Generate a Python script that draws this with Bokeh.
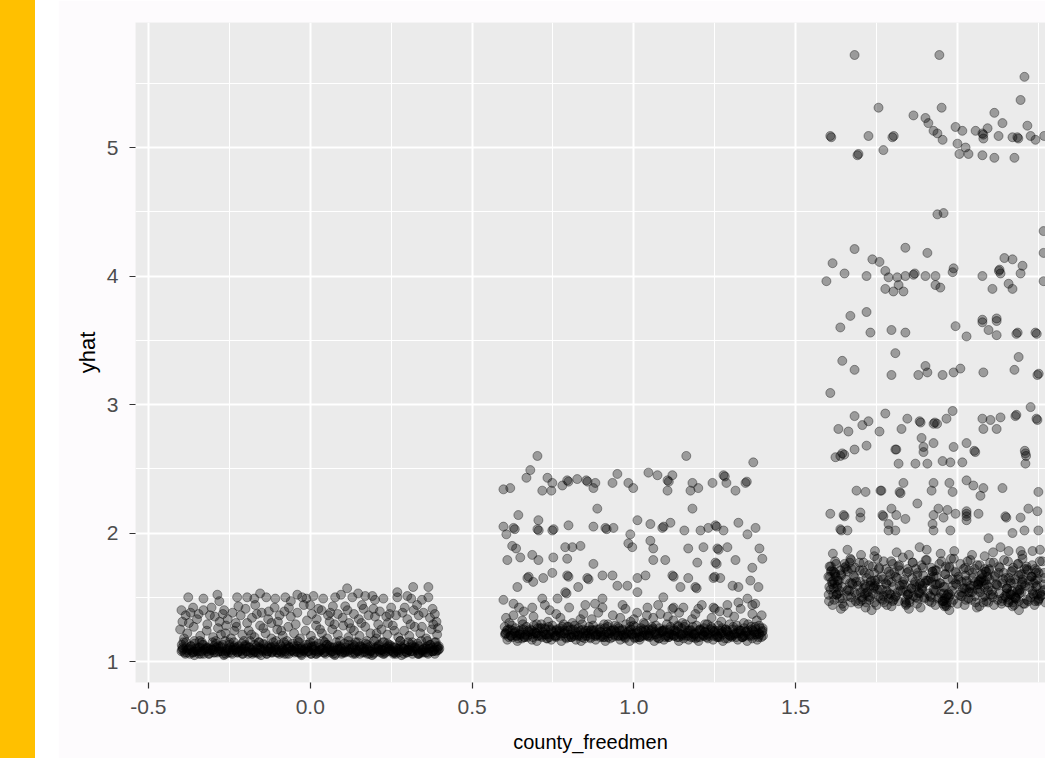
from bokeh.plotting import figure
from bokeh.models import Range1d, FixedTicker, ColumnDataSource, Div, Spacer
from bokeh.layouts import row
from bokeh.embed import file_html
from bokeh.resources import INLINE

# ---------------- data ----------------
x_ticks = [-0.5, 0.0, 0.5, 1.0, 1.5, 2.0]
x_tick_labels = ["-0.5", "0.0", "0.5", "1.0", "1.5", "2.0"]
x_minor = [-0.25, 0.25, 0.75, 1.25, 1.75, 2.25]
y_ticks = [1, 2, 3, 4, 5]
y_tick_labels = ["1", "2", "3", "4", "5"]
y_minor = [1.5, 2.5, 3.5, 4.5, 5.5]

# group 0 (county_freedmen = 0): dense band
g0_band_x_a = [-0.398,-0.386,-0.375,-0.364,-0.352,-0.341,-0.329,-0.318,-0.306,-0.295,-0.284,-0.272,-0.261,-0.249,-0.238,-0.226,-0.215,-0.204,-0.192,-0.181,-0.169,-0.158,-0.146,-0.135,-0.124,-0.112,-0.101,-0.089,-0.078,-0.066,-0.055,-0.044,-0.032,-0.021,-0.009,0.002,0.014,0.025,0.036,0.048,0.059,0.071,0.082,0.094,0.105,0.116,0.128,0.139,0.151,0.162,0.174,0.185,0.196,0.208,0.219,0.231,0.242,0.254,0.265,0.276,0.288,0.299,0.311,0.322,0.334,0.345,0.356,0.368,0.379,0.391]
g0_band_y_a = [1.08,1.06,1.10,1.07,1.09,1.11,1.06,1.08,1.10,1.07,1.12,1.08,1.06,1.09,1.11,1.07,1.08,1.10,1.06,1.09,1.07,1.11,1.08,1.06,1.10,1.09,1.07,1.12,1.08,1.06,1.09,1.10,1.07,1.08,1.11,1.06,1.09,1.07,1.10,1.08,1.12,1.06,1.09,1.11,1.07,1.08,1.10,1.06,1.09,1.07,1.11,1.08,1.06,1.10,1.09,1.07,1.12,1.08,1.06,1.09,1.10,1.07,1.08,1.11,1.06,1.09,1.07,1.10,1.08,1.12]
g0_band_x_b = [-0.393,-0.381,-0.370,-0.358,-0.347,-0.335,-0.324,-0.312,-0.301,-0.290,-0.278,-0.267,-0.255,-0.244,-0.232,-0.221,-0.210,-0.198,-0.187,-0.175,-0.164,-0.152,-0.141,-0.130,-0.118,-0.107,-0.095,-0.084,-0.072,-0.061,-0.050,-0.038,-0.027,-0.015,-0.004,0.008,0.019,0.031,0.042,0.053,0.065,0.076,0.088,0.099,0.111,0.122,0.133,0.145,0.156,0.168,0.179,0.191,0.202,0.213,0.225,0.236,0.248,0.259,0.271,0.282,0.293,0.305,0.316,0.328,0.339,0.351,0.362,0.373,0.385,0.396]
g0_band_y_b = [1.10,1.07,1.09,1.05,1.11,1.08,1.10,1.06,1.09,1.11,1.08,1.05,1.10,1.07,1.09,1.12,1.06,1.08,1.11,1.07,1.10,1.05,1.09,1.08,1.07,1.11,1.06,1.09,1.10,1.08,1.12,1.07,1.05,1.10,1.08,1.09,1.06,1.11,1.07,1.10,1.08,1.05,1.09,1.07,1.11,1.10,1.06,1.08,1.12,1.07,1.09,1.05,1.10,1.08,1.06,1.11,1.09,1.07,1.10,1.05,1.08,1.11,1.06,1.09,1.07,1.10,1.12,1.08,1.06,1.09]
g0_band_x_c = [-0.396,-0.383,-0.361,-0.349,-0.338,-0.316,-0.301,-0.287,-0.275,-0.259,-0.241,-0.229,-0.213,-0.202,-0.185,-0.171,-0.160,-0.143,-0.131,-0.119,-0.104,-0.091,-0.080,-0.063,-0.049,-0.036,-0.024,-0.007,0.005,0.017,0.029,0.044,0.057,0.069,0.086,0.097,0.109,0.124,0.137,0.149,0.166,0.177,0.189,0.205,0.217,0.228,0.244,0.257,0.269,0.284,0.297,0.309,0.325,0.337,0.348,0.363,0.377,0.389,0.399]
g0_band_y_c = [1.09,1.11,1.07,1.08,1.06,1.10,1.09,1.07,1.11,1.08,1.06,1.10,1.09,1.12,1.07,1.08,1.06,1.10,1.11,1.07,1.09,1.08,1.06,1.11,1.07,1.10,1.09,1.08,1.12,1.06,1.09,1.07,1.11,1.08,1.10,1.06,1.09,1.07,1.12,1.08,1.10,1.06,1.09,1.11,1.07,1.08,1.10,1.06,1.09,1.11,1.07,1.08,1.10,1.06,1.09,1.07,1.11,1.08,1.10]
g0_band_x_d = [-0.395,-0.380,-0.368,-0.355,-0.343,-0.333,-0.321,-0.308,-0.297,-0.281,-0.270,-0.258,-0.247,-0.234,-0.223,-0.212,-0.200,-0.189,-0.177,-0.166,-0.154,-0.143,-0.133,-0.121,-0.110,-0.097,-0.086,-0.075,-0.064,-0.052,-0.041,-0.029,-0.018,-0.006,0.005,0.016,0.028,0.039,0.051,0.062,0.073,0.085,0.096,0.108,0.119,0.131,0.142,0.153,0.165,0.176,0.188,0.199,0.211,0.222,0.233,0.245,0.256,0.268,0.279,0.290,0.302,0.313,0.325,0.336,0.347,0.359,0.371,0.383,0.394]
g0_band_y_d = [1.11,1.09,1.12,1.10,1.08,1.13,1.11,1.09,1.12,1.10,1.13,1.09,1.11,1.12,1.08,1.10,1.13,1.11,1.09,1.12,1.10,1.13,1.08,1.11,1.12,1.09,1.10,1.13,1.11,1.08,1.12,1.10,1.09,1.13,1.11,1.12,1.08,1.10,1.13,1.09,1.11,1.12,1.10,1.08,1.13,1.11,1.09,1.12,1.10,1.13,1.08,1.11,1.12,1.09,1.10,1.13,1.11,1.08,1.12,1.10,1.09,1.13,1.11,1.12,1.08,1.10,1.13,1.09,1.11]
g0_band_x_e = [-0.389,-0.372,-0.359,-0.344,-0.327,-0.314,-0.299,-0.283,-0.268,-0.253,-0.239,-0.224,-0.208,-0.194,-0.179,-0.163,-0.149,-0.134,-0.117,-0.103,-0.088,-0.073,-0.058,-0.043,-0.028,-0.012,0.003,0.018,0.034,0.047,0.063,0.078,0.093,0.108,0.122,0.138,0.153,0.168,0.183,0.198,0.214,0.229,0.243,0.258,0.273,0.289,0.304,0.318,0.333,0.348,0.364,0.379,0.393]
g0_band_y_e = [1.07,1.06,1.08,1.06,1.09,1.06,1.07,1.08,1.06,1.07,1.09,1.07,1.06,1.08,1.06,1.07,1.09,1.06,1.08,1.07,1.07,1.06,1.09,1.08,1.06,1.07,1.06,1.08,1.09,1.06,1.07,1.06,1.08,1.07,1.09,1.07,1.06,1.08,1.06,1.07,1.09,1.06,1.08,1.07,1.07,1.06,1.09,1.08,1.06,1.07,1.06,1.08,1.09]
g0_band_x_f = [-0.397,-0.384,-0.369,-0.357,-0.342,-0.330,-0.317,-0.302,-0.291,-0.277,-0.263,-0.250,-0.236,-0.227,-0.211,-0.197,-0.186,-0.172,-0.159,-0.145,-0.132,-0.122,-0.106,-0.093,-0.081,-0.068,-0.054,-0.039,-0.026,-0.013,0.000,0.012,0.026,0.040,0.052,0.066,0.080,0.091,0.106,0.118,0.133,0.146,0.158,0.171,0.186,0.197,0.212,0.224,0.239,0.251,0.263,0.278,0.292,0.303,0.317,0.331,0.343,0.357,0.370,0.384,0.397]
g0_band_y_f = [1.13,1.15,1.12,1.14,1.16,1.13,1.11,1.15,1.14,1.12,1.16,1.13,1.15,1.11,1.14,1.12,1.16,1.13,1.15,1.14,1.12,1.11,1.16,1.13,1.15,1.12,1.14,1.16,1.11,1.13,1.15,1.12,1.14,1.16,1.13,1.11,1.15,1.12,1.14,1.16,1.13,1.15,1.11,1.14,1.12,1.16,1.13,1.15,1.14,1.12,1.11,1.16,1.13,1.15,1.12,1.14,1.16,1.11,1.13,1.15,1.12]
# group 0: scattered points above the band
g0_sparse = [(-0.377,1.50),(-0.287,1.52),(-0.281,1.47),(-0.226,1.50),(-0.195,1.50),(-0.173,1.49),(-0.155,1.53),(-0.136,1.50),(-0.108,1.49),(-0.077,1.50),(-0.040,1.52),(-0.025,1.50),(-0.012,1.49),(0.040,1.49),(0.077,1.50),(0.095,1.52),(0.114,1.57),(0.130,1.50),(0.148,1.53),(0.170,1.51),(0.192,1.51),(0.226,1.49),(0.269,1.54),(0.269,1.50),(0.300,1.51),(0.312,1.49),(0.318,1.58),(0.365,1.58),(0.365,1.50),(0.345,1.48),(-0.330,1.49),(-0.060,1.47),(0.010,1.51),(0.200,1.48),
    (-0.362,1.42),(-0.385,1.36),(-0.370,1.38),(-0.345,1.37),(-0.330,1.40),(-0.310,1.36),(-0.295,1.35),(-0.270,1.37),(-0.255,1.33),(-0.240,1.38),(-0.215,1.36),(-0.200,1.41),(-0.180,1.34),(-0.165,1.37),(-0.150,1.38),(-0.130,1.33),(-0.110,1.42),(-0.095,1.36),(-0.080,1.39),(-0.060,1.35),(-0.040,1.38),(-0.020,1.44),(0.005,1.37),(0.020,1.33),(0.035,1.40),(0.055,1.36),(0.070,1.43),(0.085,1.37),(0.100,1.34),(0.115,1.40),(0.135,1.37),(0.150,1.33),(0.165,1.41),(0.180,1.36),(0.200,1.35),(0.215,1.39),(0.235,1.35),(0.250,1.42),(0.265,1.36),(0.285,1.38),(0.300,1.33),(0.320,1.40),(0.335,1.36),(0.350,1.38),(0.370,1.34),(0.385,1.37),(0.390,1.31),(-0.395,1.31),(-0.280,1.31),(-0.120,1.30),(0.060,1.31),(0.240,1.30),
    (-0.402,1.25),(-0.380,1.22),(-0.360,1.27),(-0.340,1.20),(-0.320,1.24),(-0.300,1.19),(-0.285,1.26),(-0.262,1.22),(-0.245,1.18),(-0.228,1.27),(-0.210,1.21),(-0.190,1.24),(-0.172,1.19),(-0.155,1.28),(-0.138,1.22),(-0.120,1.18),(-0.102,1.25),(-0.085,1.20),(-0.068,1.27),(-0.050,1.22),(-0.032,1.18),(-0.015,1.24),(0.002,1.20),(0.018,1.28),(0.036,1.22),(0.052,1.18),(0.068,1.25),(0.085,1.21),(0.102,1.28),(0.118,1.19),(0.135,1.24),(0.152,1.20),(0.170,1.27),(0.186,1.22),(0.204,1.18),(0.220,1.25),(0.238,1.21),(0.255,1.28),(0.272,1.19),(0.290,1.24),(0.306,1.20),(0.323,1.27),(0.340,1.22),(0.358,1.18),(0.375,1.25),(0.392,1.21),(0.380,1.29),(-0.390,1.18),(-0.230,1.30),(0.120,1.30),
    (-0.392,1.15),(-0.375,1.30),(-0.358,1.16),(-0.350,1.33),(-0.335,1.15),(-0.318,1.29),(-0.305,1.42),(-0.292,1.16),(-0.276,1.21),(-0.266,1.40),(-0.250,1.15),(-0.235,1.24),(-0.222,1.43),(-0.205,1.16),(-0.195,1.30),(-0.182,1.21),(-0.170,1.44),(-0.158,1.15),(-0.145,1.26),(-0.128,1.39),(-0.114,1.15),(-0.100,1.31),(-0.090,1.24),(-0.072,1.16),(-0.066,1.42),(-0.045,1.29),(-0.035,1.15),(-0.010,1.32),(0.010,1.16),(0.025,1.41),(0.030,1.25),(0.045,1.15),(0.062,1.38),(0.075,1.29),(0.092,1.16),(0.108,1.43),(0.125,1.26),(0.140,1.15),(0.158,1.30),(0.160,1.44),(0.175,1.16),(0.195,1.41),(0.210,1.29),(0.228,1.15),(0.245,1.37),(0.260,1.24),(0.278,1.16),(0.292,1.42),(0.310,1.29),(0.315,1.15),(0.330,1.44),(0.345,1.27),(0.362,1.16),(0.378,1.41),(0.395,1.26),(0.388,1.15),(-0.398,1.40),(-0.260,1.28),(0.000,1.44),(0.205,1.22)]

# group 1 (county_freedmen = 1): dense band
g1_band_x_a = [0.602,0.614,0.625,0.636,0.648,0.659,0.671,0.682,0.694,0.705,0.716,0.728,0.739,0.751,0.762,0.774,0.785,0.796,0.808,0.819,0.831,0.842,0.854,0.865,0.876,0.888,0.899,0.911,0.922,0.934,0.945,0.956,0.968,0.979,0.991,1.002,1.014,1.025,1.036,1.048,1.059,1.071,1.082,1.094,1.105,1.116,1.128,1.139,1.151,1.162,1.174,1.185,1.196,1.208,1.219,1.231,1.242,1.254,1.265,1.276,1.288,1.299,1.311,1.322,1.334,1.345,1.356,1.368,1.379,1.391]
g1_band_y_a = [1.21,1.19,1.24,1.20,1.22,1.25,1.19,1.21,1.23,1.20,1.26,1.21,1.19,1.23,1.25,1.20,1.22,1.24,1.19,1.23,1.20,1.25,1.22,1.19,1.24,1.21,1.20,1.26,1.22,1.19,1.23,1.24,1.20,1.21,1.25,1.19,1.23,1.20,1.24,1.22,1.26,1.19,1.23,1.25,1.20,1.21,1.24,1.19,1.22,1.20,1.25,1.21,1.19,1.24,1.23,1.20,1.26,1.21,1.19,1.23,1.24,1.20,1.22,1.25,1.19,1.23,1.20,1.24,1.21,1.26]
g1_band_x_b = [0.607,0.619,0.630,0.642,0.653,0.665,0.676,0.688,0.699,0.710,0.722,0.733,0.745,0.756,0.768,0.779,0.790,0.802,0.813,0.825,0.836,0.848,0.859,0.870,0.882,0.893,0.905,0.916,0.928,0.939,0.950,0.962,0.973,0.985,0.996,1.008,1.019,1.031,1.042,1.053,1.065,1.076,1.088,1.099,1.111,1.122,1.133,1.145,1.156,1.168,1.179,1.191,1.202,1.213,1.225,1.236,1.248,1.259,1.271,1.282,1.293,1.305,1.316,1.328,1.339,1.351,1.362,1.373,1.385,1.396]
g1_band_y_b = [1.24,1.20,1.22,1.18,1.25,1.21,1.23,1.19,1.22,1.26,1.21,1.18,1.24,1.20,1.23,1.27,1.19,1.21,1.25,1.20,1.24,1.18,1.22,1.21,1.20,1.25,1.19,1.23,1.24,1.21,1.27,1.20,1.18,1.24,1.21,1.22,1.19,1.25,1.20,1.24,1.21,1.18,1.23,1.20,1.25,1.24,1.19,1.21,1.27,1.20,1.22,1.18,1.24,1.21,1.19,1.25,1.23,1.20,1.24,1.18,1.21,1.25,1.19,1.22,1.20,1.24,1.27,1.21,1.19,1.23]
g1_band_x_c = [0.604,0.617,0.639,0.651,0.662,0.684,0.699,0.713,0.725,0.741,0.759,0.771,0.787,0.798,0.815,0.829,0.840,0.857,0.869,0.881,0.896,0.909,0.920,0.937,0.951,0.964,0.976,0.993,1.005,1.017,1.029,1.044,1.057,1.069,1.086,1.097,1.109,1.124,1.137,1.149,1.166,1.177,1.189,1.205,1.217,1.228,1.244,1.257,1.269,1.284,1.297,1.309,1.325,1.337,1.348,1.363,1.377,1.389,1.398]
g1_band_y_c = [1.22,1.25,1.20,1.21,1.19,1.24,1.22,1.20,1.26,1.21,1.19,1.24,1.22,1.27,1.20,1.21,1.19,1.24,1.25,1.20,1.23,1.21,1.19,1.25,1.20,1.24,1.22,1.21,1.27,1.19,1.23,1.20,1.25,1.21,1.24,1.19,1.22,1.20,1.27,1.21,1.24,1.19,1.22,1.25,1.20,1.21,1.24,1.19,1.22,1.25,1.20,1.21,1.24,1.19,1.23,1.20,1.25,1.21,1.24]
g1_band_x_d = [0.601,0.611,0.623,0.634,0.646,0.657,0.668,0.680,0.691,0.703,0.714,0.726,0.737,0.748,0.760,0.771,0.783,0.794,0.805,0.817,0.828,0.840,0.851,0.862,0.874,0.885,0.897,0.908,0.919,0.931,0.942,0.954,0.965,0.976,0.988,0.999,1.011,1.022,1.033,1.045,1.056,1.068,1.079,1.090,1.102,1.113,1.125,1.136,1.147,1.159,1.170,1.182,1.193,1.204,1.216,1.227,1.239,1.250,1.261,1.273,1.284,1.296,1.307,1.318,1.330,1.341,1.353,1.364,1.375,1.387,1.398]
g1_band_y_d = [1.27,1.25,1.28,1.26,1.24,1.29,1.27,1.25,1.28,1.26,1.29,1.25,1.27,1.28,1.24,1.26,1.29,1.27,1.25,1.28,1.26,1.29,1.24,1.27,1.28,1.25,1.26,1.29,1.27,1.24,1.28,1.26,1.25,1.29,1.27,1.28,1.24,1.26,1.29,1.25,1.27,1.28,1.26,1.24,1.29,1.27,1.25,1.28,1.26,1.29,1.24,1.27,1.28,1.25,1.26,1.29,1.27,1.24,1.28,1.26,1.25,1.29,1.27,1.28,1.24,1.26,1.29,1.25,1.27,1.28,1.26]
g1_band_x_e = [0.609,0.625,0.640,0.655,0.671,0.685,0.700,0.716,0.730,0.745,0.761,0.776,0.791,0.806,0.821,0.837,0.851,0.866,0.882,0.897,0.912,0.927,0.942,0.958,0.973,0.987,1.003,1.018,1.033,1.048,1.063,1.079,1.093,1.108,1.124,1.139,1.154,1.169,1.184,1.200,1.215,1.229,1.245,1.260,1.275,1.290,1.305,1.321,1.335,1.350,1.366,1.381,1.394]
g1_band_y_e = [1.17,1.19,1.16,1.18,1.20,1.17,1.16,1.19,1.18,1.17,1.20,1.16,1.18,1.19,1.17,1.16,1.20,1.18,1.17,1.19,1.16,1.18,1.20,1.17,1.19,1.16,1.18,1.17,1.20,1.19,1.16,1.18,1.17,1.19,1.20,1.16,1.18,1.17,1.19,1.16,1.20,1.18,1.17,1.19,1.16,1.18,1.20,1.17,1.19,1.16,1.18,1.17,1.19]
g1_band_x_f = [0.603,0.620,0.633,0.647,0.661,0.674,0.689,0.702,0.719,0.731,0.744,0.758,0.773,0.786,0.799,0.814,0.826,0.843,0.856,0.868,0.884,0.898,0.910,0.925,0.940,0.953,0.967,0.982,0.994,1.009,1.023,1.037,1.050,1.066,1.078,1.092,1.107,1.120,1.134,1.148,1.163,1.176,1.190,1.203,1.219,1.232,1.246,1.262,1.274,1.289,1.302,1.317,1.331,1.344,1.358,1.372,1.386,1.399]
g1_band_y_f = [1.22,1.20,1.23,1.21,1.19,1.24,1.22,1.20,1.23,1.21,1.25,1.20,1.22,1.24,1.19,1.21,1.23,1.22,1.20,1.24,1.21,1.23,1.19,1.22,1.24,1.20,1.21,1.23,1.22,1.19,1.24,1.21,1.20,1.23,1.22,1.24,1.19,1.21,1.23,1.20,1.22,1.24,1.21,1.19,1.23,1.22,1.20,1.24,1.21,1.23,1.19,1.22,1.24,1.20,1.21,1.23,1.22,1.20]
# group 1: scattered points
g1_sparse = [(0.702,2.60),(1.162,2.60),(1.369,2.55),
    (0.680,2.49),(0.668,2.43),(0.597,2.34),(0.618,2.35),(0.717,2.33),(0.733,2.43),(0.748,2.39),(0.745,2.33),(0.779,2.37),(0.794,2.41),(0.798,2.40),(0.825,2.42),(0.853,2.41),(0.857,2.40),(0.881,2.39),(0.875,2.35),(0.934,2.39),(0.949,2.46),(0.983,2.39),(0.998,2.35),(1.045,2.47),(1.073,2.45),(1.104,2.41),(1.108,2.40),(1.104,2.33),(1.119,2.45),(1.181,2.39),(1.175,2.33),(1.199,2.35),(1.243,2.39),(1.277,2.45),(1.281,2.44),(1.286,2.39),(1.314,2.33),(1.345,2.39),(1.349,2.40),(1.181,2.19),(0.887,2.19),(0.643,2.14),
    (0.597,2.05),(0.628,2.04),(0.632,2.03),(0.606,1.99),(0.705,2.10),(0.702,2.03),(0.706,2.02),(0.748,2.02),(0.752,2.03),(0.798,2.06),(0.875,2.05),(0.912,2.04),(0.916,2.03),(0.937,2.04),(1.011,2.10),(1.051,2.07),(1.088,2.04),(1.092,2.05),(1.113,2.08),(1.156,2.02),(1.206,2.02),(1.230,2.04),(1.252,2.06),(1.256,2.05),(1.277,2.02),(1.323,2.08),(1.351,1.99),(1.376,2.04),(0.989,1.99),(1.051,1.94),
    (0.624,1.90),(0.636,1.88),(0.609,1.79),(0.649,1.81),(0.686,1.83),(0.705,1.79),(0.751,1.81),(0.788,1.89),(0.810,1.89),(0.835,1.90),(0.794,1.80),(0.875,1.76),(0.983,1.92),(0.995,1.89),(1.060,1.88),(1.060,1.79),(1.097,1.79),(1.168,1.88),(1.215,1.89),(1.258,1.88),(1.262,1.87),(1.289,1.89),(1.196,1.77),(1.252,1.77),(1.256,1.76),(1.314,1.79),(1.388,1.88),(1.397,1.80),(1.366,1.73),
    (0.671,1.65),(0.675,1.66),(0.689,1.62),(0.640,1.58),(0.720,1.65),(0.748,1.69),(0.794,1.67),(0.798,1.66),(0.856,1.65),(0.860,1.64),(0.828,1.58),(0.788,1.54),(0.792,1.53),(0.903,1.67),(0.934,1.67),(0.949,1.59),(0.980,1.59),(1.011,1.65),(1.036,1.67),(1.011,1.54),(1.119,1.67),(1.123,1.66),(1.144,1.58),(1.168,1.65),(1.190,1.58),(1.194,1.57),(1.246,1.65),(1.250,1.66),(1.267,1.65),(1.305,1.59),(1.323,1.58),(1.360,1.63),(1.385,1.58),
    (0.597,1.48),(0.628,1.45),(0.686,1.42),(0.717,1.49),(0.764,1.49),(0.850,1.44),(0.903,1.49),(0.903,1.42),(0.974,1.41),(1.042,1.42),(1.091,1.50),(1.119,1.41),(1.123,1.42),(1.153,1.42),(1.199,1.41),(1.246,1.42),(1.250,1.41),(1.289,1.44),(1.323,1.46),(1.351,1.49),(1.366,1.44),(1.366,1.37),(0.628,1.36),(0.773,1.34),(0.844,1.37),(0.958,1.34),(1.082,1.37),(1.122,1.32),
    (0.615,1.30),(0.655,1.32),(0.700,1.29),(0.735,1.31),(0.810,1.30),(0.870,1.33),(0.920,1.29),(0.990,1.31),(1.030,1.30),(1.060,1.34),(1.150,1.30),(1.180,1.33),(1.220,1.29),(1.270,1.31),(1.310,1.35),(1.340,1.30),(1.380,1.32),(0.660,1.39),(0.740,1.40),(0.890,1.38),(1.010,1.38),(1.190,1.37),(1.290,1.38),(1.395,1.36),
    (0.605,1.34),(0.645,1.42),(0.690,1.35),(0.725,1.44),(0.760,1.37),(0.800,1.42),(0.835,1.33),(0.880,1.45),(0.935,1.36),(0.965,1.44),(1.000,1.33),(1.040,1.36),(1.075,1.44),(1.105,1.35),(1.140,1.38),(1.210,1.44),(1.240,1.34),(1.265,1.39),(1.330,1.41),(1.375,1.45)]

# group 2 (county_freedmen = 2): dense band
g2_band_x_a = [1.603,1.614,1.626,1.636,1.649,1.660,1.671,1.682,1.694,1.705,1.716,1.728,1.739,1.750,1.762,1.773,1.784,1.796,1.807,1.818,1.830,1.841,1.852,1.864,1.875,1.886,1.898,1.909,1.920,1.932,1.943,1.954,1.966,1.977,1.988,2.000,2.011,2.022,2.034,2.045,2.056,2.068,2.079,2.090,2.102,2.113,2.124,2.136,2.147,2.158,2.170,2.181,2.192,2.204,2.215,2.226,2.238,2.249,2.260,2.271]
g2_band_y_a = [1.47,1.44,1.52,1.49,1.43,1.51,1.46,1.54,1.45,1.50,1.42,1.48,1.53,1.44,1.49,1.46,1.52,1.43,1.50,1.47,1.55,1.44,1.48,1.51,1.45,1.42,1.49,1.53,1.46,1.44,1.50,1.47,1.43,1.52,1.48,1.45,1.51,1.44,1.49,1.54,1.46,1.43,1.50,1.47,1.52,1.44,1.48,1.45,1.51,1.46,1.43,1.49,1.53,1.45,1.48,1.50,1.44,1.47,1.52,1.46]
g2_band_x_b = [1.608,1.620,1.631,1.643,1.654,1.666,1.676,1.688,1.699,1.711,1.722,1.733,1.745,1.756,1.767,1.779,1.790,1.801,1.813,1.824,1.835,1.847,1.858,1.869,1.881,1.892,1.903,1.915,1.926,1.937,1.949,1.960,1.971,1.983,1.994,2.005,2.017,2.028,2.039,2.051,2.062,2.073,2.085,2.096,2.107,2.119,2.130,2.141,2.153,2.164,2.175,2.187,2.198,2.209,2.221,2.232,2.243,2.255,2.266]
g2_band_y_b = [1.56,1.61,1.53,1.58,1.64,1.55,1.60,1.52,1.62,1.57,1.54,1.63,1.59,1.51,1.56,1.61,1.53,1.58,1.65,1.55,1.60,1.52,1.57,1.62,1.54,1.59,1.63,1.51,1.56,1.60,1.53,1.58,1.64,1.55,1.61,1.52,1.57,1.63,1.54,1.59,1.56,1.62,1.51,1.58,1.55,1.60,1.53,1.64,1.57,1.52,1.61,1.56,1.54,1.59,1.63,1.55,1.58,1.53,1.60]
g2_band_x_c = [1.601,1.617,1.629,1.640,1.657,1.668,1.679,1.692,1.708,1.719,1.731,1.742,1.758,1.770,1.781,1.793,1.809,1.821,1.832,1.844,1.860,1.872,1.883,1.894,1.911,1.923,1.934,1.945,1.962,1.974,1.985,1.996,2.013,2.025,2.036,2.047,2.064,2.076,2.087,2.098,2.115,2.127,2.138,2.149,2.166,2.178,2.189,2.200,2.217,2.229,2.240,2.251,2.268]
g2_band_y_c = [1.66,1.70,1.63,1.68,1.72,1.61,1.67,1.59,1.71,1.65,1.62,1.69,1.73,1.64,1.60,1.68,1.66,1.71,1.62,1.69,1.65,1.72,1.60,1.67,1.63,1.70,1.66,1.61,1.68,1.73,1.64,1.69,1.62,1.67,1.71,1.65,1.60,1.68,1.63,1.72,1.66,1.69,1.61,1.65,1.70,1.64,1.67,1.62,1.71,1.66,1.63,1.69,1.65]
g2_band_x_d = [1.605,1.622,1.638,1.651,1.669,1.684,1.697,1.713,1.726,1.743,1.757,1.772,1.788,1.800,1.817,1.831,1.846,1.862,1.877,1.889,1.905,1.919,1.935,1.951,1.964,1.980,1.993,2.009,2.024,2.040,2.053,2.069,2.084,2.097,2.112,2.128,2.143,2.156,2.172,2.186,2.201,2.214,2.231,2.245,2.262]
g2_band_y_d = [1.74,1.78,1.71,1.76,1.80,1.73,1.77,1.69,1.75,1.82,1.72,1.78,1.70,1.76,1.74,1.81,1.72,1.77,1.69,1.75,1.79,1.73,1.71,1.78,1.74,1.80,1.70,1.76,1.73,1.79,1.72,1.75,1.82,1.71,1.77,1.74,1.69,1.78,1.73,1.76,1.80,1.72,1.75,1.71,1.78]
g2_band_x_e = [1.612,1.618,1.624,1.630,1.636,1.621,1.627,1.706,1.712,1.718,1.724,1.715,1.782,1.788,1.794,1.800,1.955,1.961,1.967,1.973,1.958,1.964,2.075,2.081,2.087,2.093,2.099,2.084,2.090,2.160,2.166,2.172,2.178,2.184,2.190,2.169,2.175,1.873,1.879,1.885,1.891,1.897,1.655,1.661,1.667,1.673,2.022,2.028,2.034,2.040,2.230,2.236,2.242,2.248]
g2_band_y_e = [1.62,1.57,1.66,1.60,1.55,1.69,1.52,1.48,1.53,1.46,1.51,1.58,1.44,1.49,1.52,1.47,1.45,1.49,1.46,1.50,1.53,1.44,1.68,1.63,1.70,1.66,1.64,1.72,1.60,1.48,1.52,1.46,1.50,1.54,1.47,1.55,1.44,1.58,1.53,1.61,1.56,1.50,1.74,1.70,1.77,1.72,1.57,1.62,1.54,1.59,1.66,1.61,1.69,1.64]
g2_band_x_f = [1.604,1.616,1.633,1.645,1.662,1.674,1.686,1.701,1.714,1.729,1.741,1.754,1.769,1.781,1.797,1.810,1.822,1.838,1.850,1.866,1.878,1.890,1.907,1.918,1.933,1.946,1.959,1.972,1.986,2.002,2.015,2.027,2.043,2.055,2.070,2.083,2.095,2.110,2.122,2.139,2.151,2.163,2.179,2.191,2.206,2.219,2.233,2.246,2.258,2.270]
g2_band_y_f = [1.58,1.52,1.63,1.49,1.56,1.61,1.47,1.54,1.60,1.50,1.57,1.64,1.48,1.55,1.62,1.51,1.59,1.46,1.53,1.60,1.49,1.57,1.63,1.50,1.55,1.61,1.47,1.53,1.59,1.64,1.51,1.56,1.48,1.62,1.54,1.58,1.46,1.52,1.60,1.49,1.57,1.63,1.50,1.55,1.61,1.47,1.53,1.59,1.51,1.56]
g2_band_x_g = [1.609,1.625,1.641,1.652,1.671,1.683,1.698,1.710,1.727,1.738,1.752,1.766,1.780,1.795,1.805,1.820,1.836,1.849,1.861,1.876,1.893,1.902,1.917,1.931,1.944,1.962,1.975,1.989,2.003,2.019,2.031,2.046,2.061,2.072,2.089,2.101,2.116,2.131,2.144,2.159,2.171,2.188,2.199,2.213,2.227,2.239,2.254,2.267]
g2_band_y_g = [1.70,1.76,1.67,1.73,1.79,1.65,1.71,1.77,1.68,1.74,1.80,1.66,1.72,1.78,1.69,1.75,1.64,1.70,1.77,1.67,1.73,1.79,1.65,1.71,1.76,1.68,1.74,1.80,1.66,1.72,1.78,1.69,1.75,1.64,1.70,1.77,1.67,1.73,1.79,1.65,1.71,1.76,1.68,1.74,1.66,1.72,1.78,1.69]
g2_band_x_h = [1.606,1.611,1.616,1.622,1.609,1.614,1.741,1.746,1.752,1.744,1.840,1.846,1.852,1.843,1.920,1.926,1.932,1.923,1.955,1.960,1.966,2.063,2.069,2.075,2.066,2.150,2.156,2.162,2.153,2.195,2.201,2.207,2.198,2.240,2.246,2.252]
g2_band_y_h = [1.66,1.71,1.63,1.68,1.74,1.60,1.58,1.63,1.56,1.61,1.48,1.52,1.46,1.55,1.62,1.66,1.60,1.70,1.47,1.43,1.51,1.60,1.57,1.65,1.62,1.50,1.46,1.53,1.57,1.68,1.64,1.72,1.60,1.47,1.52,1.49]
g2_band_x_i = [1.602,1.619,1.628,1.644,1.658,1.672,1.687,1.700,1.717,1.730,1.744,1.760,1.771,1.786,1.803,1.815,1.829,1.842,1.857,1.871,1.884,1.899,1.913,1.928,1.940,1.956,1.970,1.982,1.997,2.012,2.026,2.038,2.054,2.067,2.080,2.094,2.109,2.123,2.137,2.152,2.165,2.180,2.193,2.208,2.222,2.236,2.250,2.264]
g2_band_y_i = [1.52,1.48,1.58,1.45,1.55,1.50,1.62,1.47,1.53,1.59,1.46,1.56,1.51,1.63,1.48,1.54,1.60,1.45,1.57,1.50,1.53,1.61,1.47,1.55,1.49,1.58,1.52,1.46,1.60,1.54,1.48,1.57,1.51,1.63,1.46,1.55,1.50,1.59,1.47,1.53,1.61,1.49,1.56,1.45,1.58,1.52,1.48,1.55]
# group 2: scattered points
g2_sparse = [(1.615,1.84),(1.660,1.87),(1.702,1.83),(1.745,1.86),(1.812,1.85),(1.850,1.83),(1.905,1.87),(1.948,1.84),(1.990,1.86),(2.045,1.83),(2.110,1.85),(2.200,1.83),(2.255,1.87),
    (1.640,1.41),(1.735,1.40),(1.850,1.41),(1.975,1.40),(2.060,1.42),(2.190,1.40),
    (1.682,5.72),(1.944,5.72),(2.207,5.55),(2.195,5.37),(1.756,5.31),(1.951,5.31),(1.864,5.25),(1.901,5.23),(1.910,5.19),(1.926,5.13),(1.938,5.11),(1.954,5.06),(1.607,5.09),(1.610,5.08),(1.725,5.09),(1.799,5.08),(1.803,5.09),(1.771,4.98),(1.691,4.94),(1.694,4.95),(1.994,5.16),(2.015,5.13),(2.000,5.03),(2.025,5.00),(2.006,4.95),(2.034,4.95),(2.077,4.94),(2.114,4.92),(2.176,4.92),(2.056,5.13),(2.077,5.11),(2.080,5.10),(2.093,5.15),(2.080,5.07),(2.114,5.27),(2.139,5.19),(2.127,5.09),(2.170,5.08),(2.185,5.08),(2.188,5.07),(2.216,5.17),(2.226,5.09),(2.241,5.06),(2.268,5.09),
    (1.938,4.48),(1.957,4.49),
    (1.682,4.21),(1.839,4.22),(1.907,4.18),(1.614,4.10),(1.651,4.02),(1.595,3.96),(1.719,4.00),(1.737,4.13),(1.759,4.11),(1.777,4.04),(1.787,3.99),(1.814,3.99),(1.839,4.00),(1.864,4.01),(1.868,4.02),(1.901,4.00),(1.932,4.00),(1.777,3.90),(1.802,3.88),(1.833,3.88),(1.818,3.93),(1.932,3.93),(1.947,3.91),(1.988,4.06),(1.985,4.03),(2.077,4.00),(2.108,3.90),(2.130,4.05),(2.133,4.02),(2.128,4.04),(2.145,4.14),(2.170,4.13),(2.201,4.08),(2.195,4.02),(2.158,3.94),(2.170,3.90),(2.266,4.35),(2.266,4.18),(2.266,3.96),
    (1.669,3.69),(1.719,3.72),(2.077,3.66),(2.121,3.67),(1.638,3.60),(1.731,3.56),(1.796,3.58),(1.839,3.56),(1.994,3.61),(2.028,3.53),(2.077,3.64),(2.121,3.65),(2.096,3.58),(2.121,3.54),(2.182,3.55),(2.186,3.56),(2.241,3.56),(2.245,3.55),
    (1.644,3.34),(1.682,3.27),(1.808,3.40),(1.796,3.23),(1.879,3.23),(1.901,3.30),(1.907,3.25),(1.954,3.23),(1.988,3.25),(2.009,3.28),(2.080,3.25),(2.176,3.27),(2.189,3.37),(2.247,3.23),(2.251,3.24),(1.607,3.09),
    (1.682,2.91),(1.777,2.93),(1.632,2.81),(1.663,2.79),(1.706,2.84),(1.725,2.87),(1.759,2.79),(1.827,2.81),(1.845,2.89),(1.883,2.87),(1.886,2.86),(1.926,2.85),(1.930,2.86),(1.937,2.85),(1.966,2.89),(1.985,2.95),
    (1.623,2.59),(1.644,2.62),(1.650,2.61),(1.638,2.60),(1.682,2.65),(1.719,2.68),(1.808,2.65),(1.811,2.65),(1.889,2.74),(1.895,2.67),(1.895,2.63),(1.926,2.70),(1.988,2.67),(2.028,2.70),(2.052,2.64),(2.055,2.63),(1.818,2.54),(1.870,2.54),(1.907,2.54),(1.954,2.56),(1.978,2.55),(2.015,2.55),
    (2.077,2.89),(2.102,2.88),(2.133,2.90),(2.080,2.81),(2.121,2.81),(2.179,2.91),(2.182,2.92),(2.226,2.98),(2.244,2.89),(2.247,2.88),(2.210,2.62),(2.212,2.60),(2.208,2.64),(2.210,2.54),
    (1.688,2.33),(1.716,2.32),(1.762,2.33),(1.765,2.33),(1.821,2.32),(1.824,2.31),(1.833,2.39),(1.876,2.23),(1.926,2.39),(1.920,2.33),(1.975,2.39),(1.985,2.32),(2.028,2.41),(2.049,2.37),(2.080,2.35),(2.071,2.29),(2.139,2.35),(2.250,2.32),
    (1.607,2.15),(1.648,2.14),(1.651,2.13),(1.700,2.16),(1.700,2.12),(1.638,2.03),(1.641,2.02),(1.660,2.02),(1.768,2.14),(1.771,2.13),(1.796,2.19),(1.811,2.14),(1.839,2.11),(1.787,2.07),(1.787,2.02),(1.808,2.02),(1.926,2.14),(1.941,2.19),(1.969,2.18),(1.957,2.12),(1.994,2.15),(2.028,2.15),(2.028,2.13),(2.028,2.17),(2.028,2.10),(2.065,2.15),(1.923,2.07),(1.926,2.02),(1.978,2.02),(2.148,2.13),(2.151,2.12),(2.195,2.12),(2.219,2.19),(2.247,2.17),(2.170,2.00),(2.207,2.02),(2.250,2.02),(2.096,1.96),(2.133,1.89),(2.158,1.86),(2.195,1.86),(2.232,1.86),(1.883,1.89)]

# ---------------- assemble ----------------
bands = [(g0_band_x_a, g0_band_y_a), (g0_band_x_b, g0_band_y_b), (g0_band_x_c, g0_band_y_c),
         (g0_band_x_d, g0_band_y_d), (g0_band_x_e, g0_band_y_e), (g0_band_x_f, g0_band_y_f),
         (g1_band_x_a, g1_band_y_a), (g1_band_x_b, g1_band_y_b), (g1_band_x_c, g1_band_y_c),
         (g1_band_x_d, g1_band_y_d), (g1_band_x_e, g1_band_y_e), (g1_band_x_f, g1_band_y_f),
         (g2_band_x_a, g2_band_y_a), (g2_band_x_b, g2_band_y_b), (g2_band_x_c, g2_band_y_c),
         (g2_band_x_d, g2_band_y_d), (g2_band_x_e, g2_band_y_e), (g2_band_x_f, g2_band_y_f),
         (g2_band_x_g, g2_band_y_g), (g2_band_x_h, g2_band_y_h), (g2_band_x_i, g2_band_y_i)]
xs, ys = [], []
for bx, by in bands:
    for a, b in zip(bx, by):
        xs.append(a); ys.append(b)
for pts in (g0_sparse, g1_sparse, g2_sparse):
    for a, b in pts:
        xs.append(a); ys.append(b)
src = ColumnDataSource(data=dict(x=xs, y=ys))

FONT = "Liberation Sans"

# orange strip and white gap at the far left
strip = Div(text="", width=35, height=758, margin=0,
            styles={"background-color": "#FFC000"})
gap = Spacer(width=23, height=758, margin=0)

p = figure(width=987, height=758, output_backend="svg", toolbar_location=None,
           x_range=Range1d(-0.54, 2.272), y_range=Range1d(0.837, 5.973),
           min_border_left=77, min_border_right=0, min_border_top=22, min_border_bottom=76,
           background_fill_color="#EBEBEB", border_fill_color="#FDFBFD",
           outline_line_color=None, margin=0)

p.scatter("x", "y", source=src, size=9, fill_color="black", fill_alpha=0.34,
          line_color="black", line_alpha=0.36, line_width=1)

p.xaxis.ticker = FixedTicker(ticks=x_ticks, minor_ticks=x_minor)
p.yaxis.ticker = FixedTicker(ticks=y_ticks, minor_ticks=y_minor)
p.xaxis.major_label_overrides = {t: l for t, l in zip(x_ticks, x_tick_labels)}
p.yaxis.major_label_overrides = {t: l for t, l in zip(y_ticks, y_tick_labels)}

for g in (p.xgrid, p.ygrid):
    g.grid_line_color = "white"
    g.grid_line_width = 2
    g.minor_grid_line_color = "white"
    g.minor_grid_line_width = 1

for ax in (p.xaxis, p.yaxis):
    ax.axis_line_color = None
    ax.major_tick_line_color = "#333333"
    ax.major_tick_line_width = 1.2
    ax.major_tick_in = 0
    ax.major_tick_out = 6
    ax.minor_tick_line_color = None
    ax.major_label_text_color = "#4D4D4D"
    ax.major_label_text_font = FONT
    ax.major_label_text_font_size = "21px"
    ax.axis_label_text_font = FONT
    ax.axis_label_text_font_style = "normal"
    ax.axis_label_text_color = "black"

p.xaxis.axis_label_text_font_size = "20px"
p.yaxis.axis_label_text_font_size = "22px"
p.xaxis.axis_label = "county_freedmen"
p.yaxis.axis_label = "yhat"
p.xaxis.major_label_standoff = 11
p.yaxis.major_label_standoff = 11
p.xaxis.axis_label_standoff = 14
p.yaxis.axis_label_standoff = 4

layout = row(strip, gap, p)
open("out.html", "w").write(file_html(layout, INLINE))
